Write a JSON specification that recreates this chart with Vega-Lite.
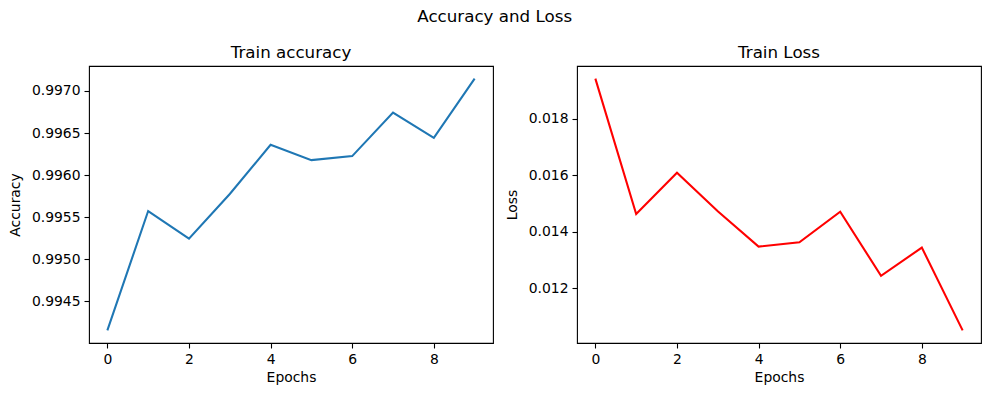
{
  "$schema": "https://vega.github.io/schema/vega-lite/v6.json",
  "autosize": {"type": "pad"},
  "padding": {"left": 7, "top": 9, "right": 5, "bottom": 5},
  "background": "white",
  "title": {"text": "Accuracy and Loss", "anchor": "middle", "fontSize": 16.7, "font": "DejaVu Sans", "fontWeight": "normal", "color": "black", "offset": 19},
  "datasets": {
    "acc": [
      {"epoch": 0, "accuracy": 0.994156},
      {"epoch": 1, "accuracy": 0.995574},
      {"epoch": 2, "accuracy": 0.995246},
      {"epoch": 3, "accuracy": 0.995776},
      {"epoch": 4, "accuracy": 0.99636},
      {"epoch": 5, "accuracy": 0.996178},
      {"epoch": 6, "accuracy": 0.996226},
      {"epoch": 7, "accuracy": 0.996743},
      {"epoch": 8, "accuracy": 0.996443},
      {"epoch": 9, "accuracy": 0.997146}
    ],
    "loss": [
      {"epoch": 0, "loss": 0.019426},
      {"epoch": 1, "loss": 0.014629},
      {"epoch": 2, "loss": 0.01609},
      {"epoch": 3, "loss": 0.014723},
      {"epoch": 4, "loss": 0.013474},
      {"epoch": 5, "loss": 0.013627},
      {"epoch": 6, "loss": 0.014711},
      {"epoch": 7, "loss": 0.012436},
      {"epoch": 8, "loss": 0.013438},
      {"epoch": 9, "loss": 0.010503}
    ]
  },
  "spacing": 84,
  "bounds": "flush",
  "hconcat": [
    {
      "width": 404,
      "height": 277,
      "title": {"text": "Train accuracy", "fontSize": 16.7, "font": "DejaVu Sans", "fontWeight": "normal", "color": "black", "offset": 4, "anchor": "middle"},
      "data": {"name": "acc"},
      "mark": {"type": "line", "color": "#1f77b4", "strokeWidth": 2.08},
      "encoding": {
        "x": {"field": "epoch", "type": "quantitative", "title": "Epochs",
              "scale": {"domain": [-0.45, 9.45], "nice": false, "zero": false},
              "axis": {"values": [0, 2, 4, 6, 8], "format": "d"}},
        "y": {"field": "accuracy", "type": "quantitative", "title": "Accuracy",
              "scale": {"domain": [0.994007, 0.997296], "nice": false, "zero": false},
              "axis": {"values": [0.9945, 0.995, 0.9955, 0.996, 0.9965, 0.997], "format": ".4f", "titlePadding": 9}}
      }
    },
    {
      "width": 404,
      "height": 277,
      "title": {"text": "Train Loss", "fontSize": 16.7, "font": "DejaVu Sans", "fontWeight": "normal", "color": "black", "offset": 4, "anchor": "middle"},
      "data": {"name": "loss"},
      "mark": {"type": "line", "color": "#ff0000", "strokeWidth": 2.08},
      "encoding": {
        "x": {"field": "epoch", "type": "quantitative", "title": "Epochs",
              "scale": {"domain": [-0.45, 9.45], "nice": false, "zero": false},
              "axis": {"values": [0, 2, 4, 6, 8], "format": "d"}},
        "y": {"field": "loss", "type": "quantitative", "title": "Loss",
              "scale": {"domain": [0.010057, 0.019872], "nice": false, "zero": false},
              "axis": {"values": [0.012, 0.014, 0.016, 0.018], "format": ".3f", "titlePadding": 9}}
      }
    }
  ],
  "config": {
    "view": {"stroke": "black", "strokeWidth": 1.1},
    "axis": {
      "domain": false,
      "grid": false,
      "ticks": true,
      "tickColor": "black",
      "tickWidth": 1.1,
      "tickSize": 5,
      "labelFont": "DejaVu Sans",
      "labelFontSize": 13.9,
      "labelColor": "black",
      "labelPadding": 4,
      "titleFont": "DejaVu Sans",
      "titleFontSize": 13.9,
      "titleFontWeight": "normal",
      "titleColor": "black",
      "titlePadding": 5
    }
  }
}
